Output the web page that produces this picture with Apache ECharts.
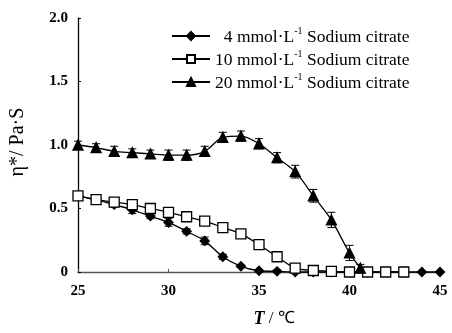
<!DOCTYPE html>
<html>
<head>
<meta charset="utf-8">
<script src="https://cdn.jsdelivr.net/npm/echarts@6/dist/echarts.min.js"></script>
<style>
  html, body { margin: 0; padding: 0; background: #fff; }
  #chart { width: 452px; height: 333px; }
</style>
</head>
<body>
<div id="chart"></div>
<script>
// temperature (°C) for each series
const tempLow = [25, 26, 27, 28, 29, 30, 31, 32, 33, 34, 35, 36, 37, 38, 39, 40, 41, 42, 43, 44, 45];
const tempMid = [25, 26, 27, 28, 29, 30, 31, 32, 33, 34, 35, 36, 37, 38, 39, 40, 41, 42, 43];
const tempHigh = [25, 26, 27, 28, 29, 30, 31, 32, 33, 34, 35, 36, 37, 38, 39, 40, 40.6];

// η* (Pa·s)
const visc4 = [0.60, 0.57, 0.53, 0.49, 0.44, 0.39, 0.32, 0.245, 0.12, 0.045, 0.01, 0.005, 0, 0, 0, 0, 0, 0, 0, 0, 0];
const visc10 = [0.60, 0.57, 0.55, 0.53, 0.50, 0.47, 0.435, 0.40, 0.35, 0.30, 0.215, 0.12, 0.03, 0.012, 0.005, 0, 0, 0, 0];
const visc20 = [1.00, 0.98, 0.95, 0.94, 0.93, 0.92, 0.92, 0.95, 1.06, 1.07, 1.01, 0.90, 0.79, 0.60, 0.41, 0.15, 0.03];

// error bars (±)
const err4 = [0.01, 0.02, 0.02, 0.03, 0.02, 0.03, 0.02, 0.03, 0.02, 0.01, 0.01, 0.01, 0, 0, 0, 0, 0, 0, 0, 0, 0];
const err10 = [0.02, 0.02, 0.02, 0.02, 0.02, 0.02, 0.02, 0.02, 0.02, 0.02, 0.01, 0.01, 0.01, 0.01, 0, 0, 0, 0, 0];
const err20 = [0.03, 0.03, 0.04, 0.03, 0.03, 0.04, 0.04, 0.04, 0.04, 0.04, 0.04, 0.04, 0.05, 0.05, 0.06, 0.06, 0.03];

const names = ['4 mmol·L-1 Sodium citrate', '10 mmol·L-1 Sodium citrate', '20 mmol·L-1 Sodium citrate'];
const serif = 'Liberation Serif';

function pairs(xs, ys) { return xs.map((x, i) => [x, ys[i]]); }
function errData(xs, ys, es) { return xs.map((x, i) => [x, ys[i] - es[i], ys[i] + es[i]]); }

function errSeries(data) {
  return {
    type: 'custom',
    silent: true,
    z: 1,
    data: data,
    encode: { x: 0, y: [1, 2] },
    renderItem: function (params, api) {
      const lo = api.coord([api.value(0), api.value(1)]);
      const hi = api.coord([api.value(0), api.value(2)]);
      const w = 4;
      const st = { stroke: '#000', lineWidth: 1 };
      return {
        type: 'group',
        children: [
          { type: 'line', shape: { x1: lo[0], y1: lo[1], x2: hi[0], y2: hi[1] }, style: st },
          { type: 'line', shape: { x1: hi[0] - w, y1: hi[1], x2: hi[0] + w, y2: hi[1] }, style: st },
          { type: 'line', shape: { x1: lo[0] - w, y1: lo[1], x2: lo[0] + w, y2: lo[1] }, style: st }
        ]
      };
    }
  };
}

function lineSeries(name, data, symbol, size, fill) {
  return {
    name: name,
    type: 'line',
    data: data,
    smooth: 0.3,
    symbol: symbol,
    symbolSize: size,
    showAllSymbol: true,
    clip: false,
    lineStyle: { color: '#000', width: 1.3 },
    itemStyle: { color: fill, borderColor: '#000', borderWidth: 1.3 },
    z: 3
  };
}

const chart = echarts.init(document.getElementById('chart'));
chart.setOption({
  animation: false,
  backgroundColor: '#fff',
  grid: { left: 76, right: 12, top: 18, bottom: 60 },
  legend: {
    orient: 'vertical',
    left: 166,
    top: 21,
    itemWidth: 38,
    itemHeight: 10,
    itemGap: 3,
    data: names,
    formatter: function (name) {
      const parts = name.split('-1');
      const pad = name.charAt(0) === '4' ? '  ' : '';
      return '{n|' + pad + parts[0] + '}{s|-1}{n|' + parts[1] + '}';
    },
    textStyle: {
      fontFamily: serif,
      color: '#000',
      rich: {
        n: { fontFamily: serif, fontSize: 17.5, color: '#000', lineHeight: 20, verticalAlign: 'bottom' },
        s: { fontFamily: serif, fontSize: 10, color: '#000', lineHeight: 20, verticalAlign: 'top' }
      }
    }
  },
  xAxis: {
    type: 'value',
    min: 25,
    max: 45,
    interval: 5,
    name: '{i|T}{r| / ℃}',
    nameLocation: 'middle',
    nameGap: 38,
    nameTextStyle: {
      padding: [0, 0, 0, 30],
      rich: {
        i: { fontFamily: serif, fontSize: 18, fontWeight: 'bold', fontStyle: 'italic', color: '#000' },
        r: { fontFamily: serif, fontSize: 17, color: '#000' }
      }
    },
    splitLine: { show: false },
    axisLine: { lineStyle: { color: '#555', width: 1.3 } },
    axisTick: { inside: true, length: 3, lineStyle: { color: '#555' } },
    axisLabel: { fontFamily: serif, fontSize: 15, fontWeight: 'bold', color: '#000', margin: 12 }
  },
  yAxis: {
    type: 'value',
    min: 0,
    max: 2,
    interval: 0.5,
    name: 'η*/ Pa·S',
    nameLocation: 'middle',
    nameGap: 50,
    nameTextStyle: { fontFamily: serif, fontSize: 20, color: '#000', padding: [0, 0, 0, 6] },
    splitLine: { show: false },
    axisLine: { show: true, lineStyle: { color: '#000', width: 1.3 } },
    axisTick: { inside: true, length: 3, lineStyle: { color: '#000' } },
    axisLabel: {
      fontFamily: serif, fontSize: 15, fontWeight: 'bold', color: '#000', margin: 10,
      formatter: function (v) { return v === 0 ? '0' : v.toFixed(1); }
    }
  },
  series: [
    errSeries(errData(tempLow, visc4, err4)),
    errSeries(errData(tempMid, visc10, err10)),
    errSeries(errData(tempHigh, visc20, err20)),
    lineSeries(names[0], pairs(tempLow, visc4), 'diamond', 9, '#000'),
    lineSeries(names[1], pairs(tempMid, visc10), 'rect', 10, '#fff'),
    lineSeries(names[2], pairs(tempHigh, visc20), 'triangle', 10, '#000')
  ]
});
</script>
</body>
</html>
